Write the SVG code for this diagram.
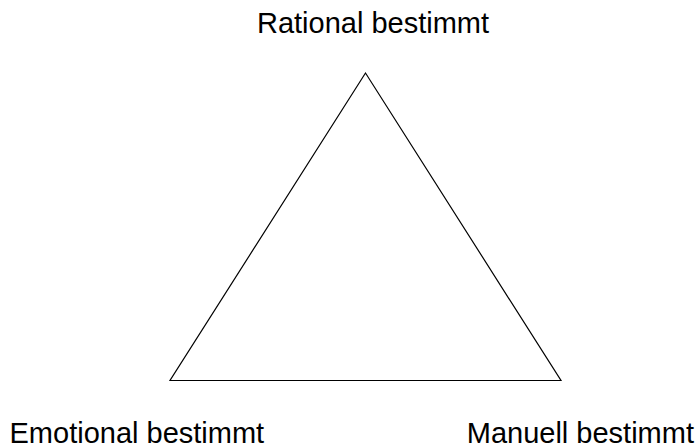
<svg xmlns="http://www.w3.org/2000/svg" width="698" height="448" viewBox="0 0 698 448">
<style>
.lbl{font-family:"Liberation Sans",Arial,sans-serif;font-size:29px;fill:#000}
.edge{fill:none;stroke:#000;stroke-width:1.2}
</style>
<rect width="698" height="448" fill="#fff"/>
<g id="connectors">
<polygon class="edge" points="365.5,73 170,380.5 561,380.5"/>
</g>
<g id="rational"><text class="lbl" x="373" y="33" text-anchor="middle">Rational bestimmt</text></g>
<g id="emotional"><text class="lbl" x="9.5" y="443">Emotional bestimmt</text></g>
<g id="manuell"><text class="lbl" x="694" y="443" text-anchor="end">Manuell bestimmt</text></g>
</svg>
